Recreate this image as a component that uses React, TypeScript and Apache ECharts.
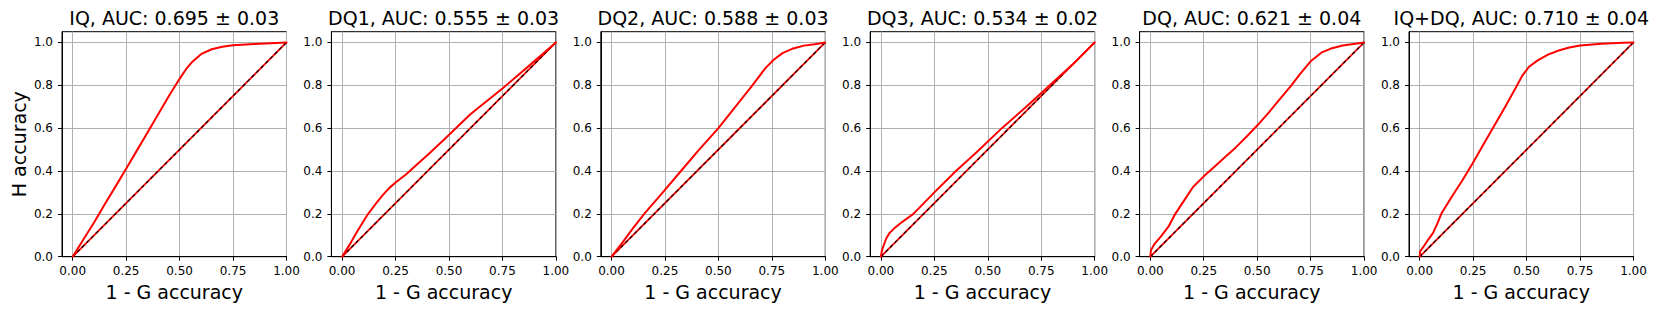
import React, { useEffect, useRef } from "react";
import * as echarts from "echarts";

const panelTitles = [
  "IQ, AUC: 0.695 ± 0.03",
  "DQ1, AUC: 0.555 ± 0.03",
  "DQ2, AUC: 0.588 ± 0.03",
  "DQ3, AUC: 0.534 ± 0.02",
  "DQ, AUC: 0.621 ± 0.04",
  "IQ+DQ, AUC: 0.710 ± 0.04",
];

const xTicks = [0, 0.25, 0.5, 0.75, 1.0];
const yTicks = [0, 0.2, 0.4, 0.6, 0.8, 1.0];
const xLabel = "1 - G accuracy";
const yLabel = "H accuracy";
const chance = [[0, 0], [1, 1]];

const iqCurve = [
  [0, 0], [0.05, 0.08], [0.1, 0.16], [0.15, 0.245], [0.2, 0.327], [0.25, 0.41],
  [0.3, 0.495], [0.35, 0.58], [0.4, 0.665], [0.45, 0.75], [0.5, 0.83],
  [0.53, 0.875], [0.56, 0.91], [0.6, 0.945], [0.65, 0.968], [0.7, 0.98],
  [0.75, 0.987], [0.85, 0.993], [0.95, 0.997], [1, 1],
];
const dq1Curve = [
  [0, 0], [0.034, 0.054], [0.065, 0.108], [0.1, 0.165], [0.122, 0.2],
  [0.157, 0.246], [0.19, 0.287], [0.22, 0.32], [0.25, 0.346], [0.3, 0.385],
  [0.35, 0.43], [0.4, 0.475], [0.481, 0.55], [0.6, 0.665], [0.75, 0.785],
  [0.878, 0.894], [1, 1],
];
const dq2Curve = [
  [0, 0], [0.05, 0.065], [0.1, 0.132], [0.153, 0.2], [0.24, 0.3], [0.325, 0.4],
  [0.41, 0.5], [0.5, 0.6], [0.58, 0.7], [0.659, 0.8], [0.72, 0.88], [0.76, 0.92],
  [0.8, 0.95], [0.85, 0.972], [0.9, 0.985], [0.95, 0.991], [1, 1],
];
const dq3Curve = [
  [0, 0], [0.005, 0.03], [0.012, 0.05], [0.025, 0.085], [0.04, 0.11], [0.06, 0.13],
  [0.09, 0.155], [0.152, 0.2], [0.25, 0.3], [0.351, 0.4], [0.45, 0.49],
  [0.566, 0.6], [0.68, 0.7], [0.79, 0.8], [0.9, 0.9], [1, 1],
];
const dqCurve = [
  [0, 0], [0.003, 0.03], [0.02, 0.06], [0.05, 0.095], [0.085, 0.14], [0.117, 0.2],
  [0.15, 0.25], [0.2, 0.325], [0.25, 0.375], [0.3, 0.42], [0.35, 0.465],
  [0.4, 0.51], [0.45, 0.56], [0.5, 0.612], [0.55, 0.668], [0.6, 0.728],
  [0.66, 0.8], [0.7, 0.852], [0.75, 0.912], [0.8, 0.952],
  [0.85, 0.973], [0.9, 0.986], [0.95, 0.993], [1, 1],
];
const iqdqCurve = [
  [0, 0], [0.002, 0.025], [0.02, 0.05], [0.04, 0.08], [0.062, 0.11], [0.085, 0.16],
  [0.101, 0.2], [0.15, 0.28], [0.2, 0.357], [0.25, 0.44], [0.3, 0.527],
  [0.35, 0.614], [0.4, 0.7], [0.45, 0.79], [0.48, 0.845], [0.51, 0.885],
  [0.55, 0.915], [0.6, 0.943], [0.65, 0.962], [0.7, 0.976], [0.75, 0.986],
  [0.85, 0.994], [0.95, 0.998], [1, 1],
];
const curves = [iqCurve, dq1Curve, dq2Curve, dq3Curve, dqCurve, iqdqCurve];

const FONT = "DejaVu Sans";
const LEFT0 = 62;
const STEP = 269.4;
const W = 224.5;
const TOP = 31.7;
const H = 225;

export default function App() {
  const ref = useRef<HTMLDivElement>(null);
  useEffect(() => {
    if (!ref.current) return;
    const chart = echarts.init(ref.current, undefined, { renderer: "svg" });
    const grid: any[] = [];
    const xAxis: any[] = [];
    const yAxis: any[] = [];
    const series: any[] = [];
    const graphic: any[] = [];
    panelTitles.forEach((title, i) => {
      const left = LEFT0 + i * STEP;
      grid.push({
        left, top: TOP, width: W, height: H,
        show: true, borderColor: "#000", borderWidth: 1, backgroundColor: "transparent",
      });
      xAxis.push({
        type: "value", gridIndex: i, min: -0.05, max: 1.0,
        name: xLabel, nameLocation: "middle", nameGap: 25.5,
        nameTextStyle: { fontFamily: FONT, fontSize: 19, color: "#000" },
        axisLine: { show: true, onZero: false, lineStyle: { color: "#000", width: 1 } },
        axisTick: { show: true, length: 4, inside: false, customValues: xTicks, lineStyle: { color: "#000" } },
        axisLabel: {
          customValues: xTicks, margin: 8, fontFamily: FONT, fontSize: 12, color: "#000",
          formatter: (v: number) => v.toFixed(2),
        },
        splitLine: { show: true, lineStyle: { color: "#b0b0b0", width: 1 } },
      });
      yAxis.push({
        type: "value", gridIndex: i, min: 0, max: 1.05,
        name: i === 0 ? yLabel : "", nameLocation: "middle", nameGap: 34,
        nameTextStyle: { fontFamily: FONT, fontSize: 19, color: "#000" },
        axisLine: { show: true, onZero: false, lineStyle: { color: "#000", width: 1 } },
        axisTick: { show: true, length: 4, inside: false, customValues: yTicks, lineStyle: { color: "#000" } },
        axisLabel: {
          customValues: yTicks, margin: 9, fontFamily: FONT, fontSize: 12, color: "#000",
          formatter: (v: number) => v.toFixed(1),
        },
        splitLine: { show: true, lineStyle: { color: "#b0b0b0", width: 1 } },
      });
      series.push({
        type: "line", xAxisIndex: i, yAxisIndex: i, data: chance, showSymbol: false,
        lineStyle: { color: "#ff0000", width: 1.8 }, z: 2, silent: true,
      });
      series.push({
        type: "line", xAxisIndex: i, yAxisIndex: i, data: chance, showSymbol: false,
        lineStyle: { color: "#000", width: 1.2, type: [3.5, 3] }, z: 3, silent: true,
      });
      series.push({
        type: "line", xAxisIndex: i, yAxisIndex: i, data: curves[i], showSymbol: false,
        smooth: false,
        lineStyle: { color: "#ff0000", width: 2, join: "round", cap: "round" }, z: 4, silent: true,
      });
      graphic.push({
        type: "text", x: left + W / 2, y: 18.4,
        style: {
          text: title, fontFamily: FONT, fontSize: 19, fill: "#000",
          textAlign: "center", textVerticalAlign: "middle",
        },
      });
    });
    chart.setOption({
      animation: false,
      backgroundColor: "#fff",
      grid, xAxis, yAxis, series, graphic,
    });
    return () => chart.dispose();
  }, []);
  return (
    <div
      ref={ref}
      style={{ position: "absolute", left: 0, top: 0, width: 1660, height: 311 }}
    />
  );
}
